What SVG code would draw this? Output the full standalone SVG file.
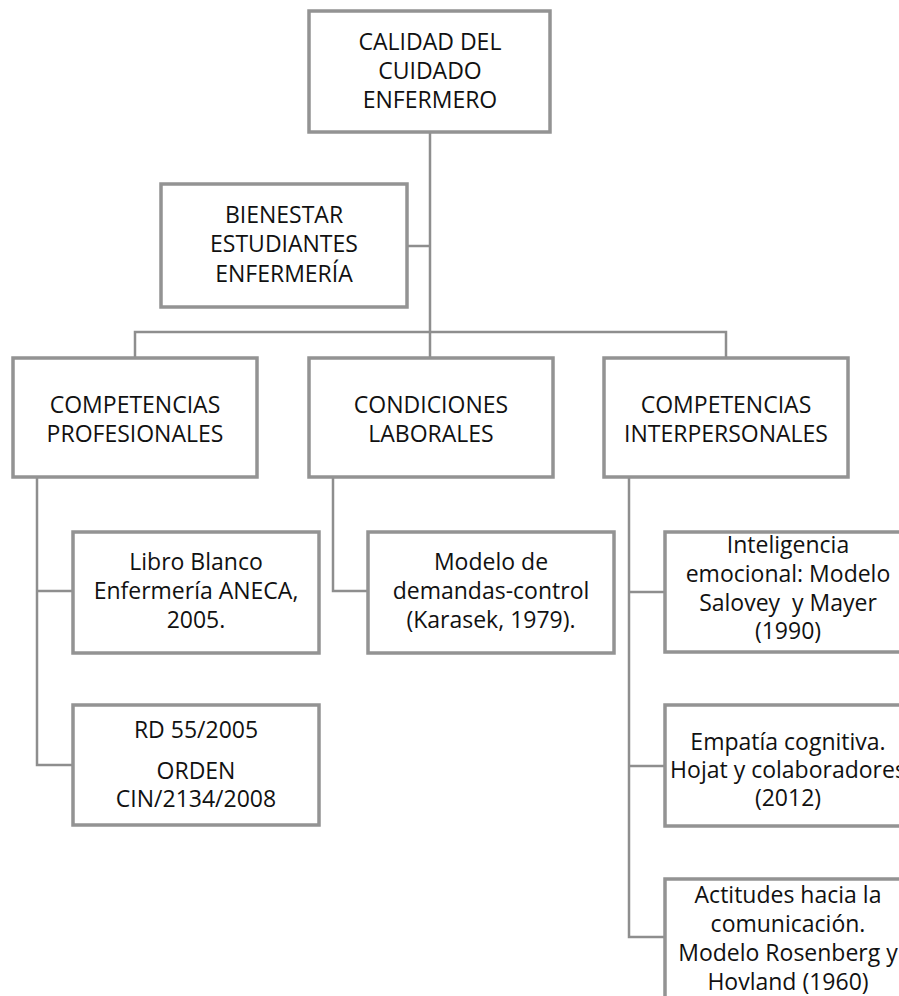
<svg xmlns="http://www.w3.org/2000/svg" width="899" height="996" viewBox="0 0 899 996">
  <style>
    .box { fill: #ffffff; stroke: #939393; stroke-width: 3.5; }
    .link { fill: none; stroke: #8e8e8e; stroke-width: 2.5; }
    text { font-family: "Open Sans", "Noto Sans", "DejaVu Sans", sans-serif; font-size: 23px; fill: #111111; text-anchor: middle; }
  </style>
  <rect width="899" height="996" fill="#ffffff"/>

  <!-- connectors -->
  <g id="connectors">
    <path class="link" d="M430,133 V332"/>
    <path class="link" d="M407,246 H430"/>
    <path class="link" d="M135,357 V332 H726 V357"/>
    <path class="link" d="M430,332 V357"/>
    <path class="link" d="M37,477 V765 H73"/>
    <path class="link" d="M37,591 H73"/>
    <path class="link" d="M333,477 V591 H368"/>
    <path class="link" d="M629,477 V937 H665"/>
    <path class="link" d="M629,592 H665"/>
    <path class="link" d="M629,766 H665"/>
  </g>

  <g id="calidad">
    <rect class="box" x="309" y="11" width="241" height="121"/>
    <text x="430" y="50">CALIDAD DEL</text>
    <text x="430" y="79">CUIDADO</text>
    <text x="430" y="108">ENFERMERO</text>
  </g>

  <g id="bienestar">
    <rect class="box" x="161" y="184" width="246" height="123"/>
    <text x="284" y="223">BIENESTAR</text>
    <text x="284" y="252">ESTUDIANTES</text>
    <text x="284" y="282">ENFERMERÍA</text>
  </g>

  <g id="comp-profesionales">
    <rect class="box" x="13" y="358" width="244" height="119"/>
    <text x="135" y="413">COMPETENCIAS</text>
    <text x="135" y="442">PROFESIONALES</text>
  </g>

  <g id="condiciones">
    <rect class="box" x="309" y="358" width="244" height="119"/>
    <text x="431" y="413">CONDICIONES</text>
    <text x="431" y="442">LABORALES</text>
  </g>

  <g id="comp-interpersonales">
    <rect class="box" x="604" y="358" width="244" height="119"/>
    <text x="726" y="413">COMPETENCIAS</text>
    <text x="726" y="442">INTERPERSONALES</text>
  </g>

  <g id="libro-blanco">
    <rect class="box" x="73" y="532" width="246" height="121"/>
    <text x="196" y="570">Libro Blanco</text>
    <text x="196" y="599">Enfermería ANECA,</text>
    <text x="196" y="628">2005.</text>
  </g>

  <g id="rd-orden">
    <rect class="box" x="73" y="705" width="246" height="120"/>
    <text x="196" y="738">RD 55/2005</text>
    <text x="196" y="779">ORDEN</text>
    <text x="196" y="807">CIN/2134/2008</text>
  </g>

  <g id="karasek">
    <rect class="box" x="368" y="532" width="246" height="121"/>
    <text x="491" y="570">Modelo de</text>
    <text x="491" y="599">demandas-control</text>
    <text x="491" y="628">(Karasek, 1979).</text>
  </g>

  <g id="inteligencia">
    <rect class="box" x="665" y="532" width="246" height="120"/>
    <text x="788" y="553">Inteligencia</text>
    <text x="788" y="582">emocional: Modelo</text>
    <text x="788" y="611" xml:space="preserve">Salovey  y Mayer</text>
    <text x="788" y="639">(1990)</text>
  </g>

  <g id="empatia">
    <rect class="box" x="665" y="705" width="246" height="121"/>
    <text x="788" y="750">Empatía cognitiva.</text>
    <text x="788" y="778">Hojat y colaboradores</text>
    <text x="788" y="806">(2012)</text>
  </g>

  <g id="actitudes">
    <rect class="box" x="665" y="879" width="246" height="140"/>
    <text x="788" y="903">Actitudes hacia la</text>
    <text x="788" y="932">comunicación.</text>
    <text x="788" y="961">Modelo Rosenberg y</text>
    <text x="788" y="990">Hovland (1960)</text>
  </g>
</svg>
